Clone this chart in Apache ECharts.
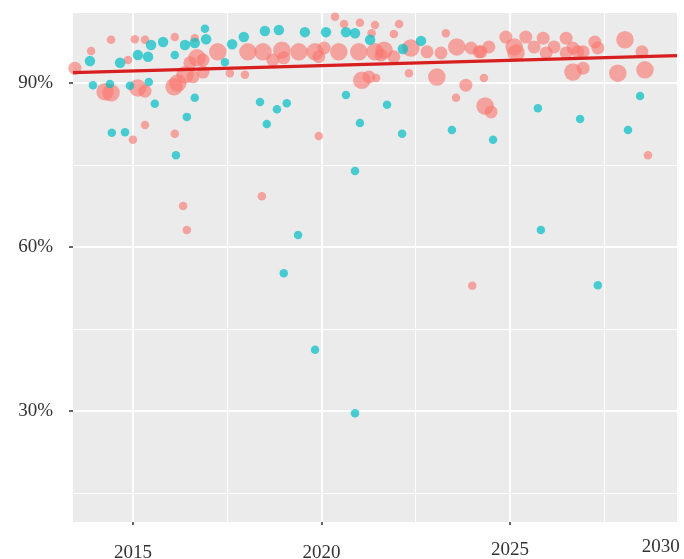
<!DOCTYPE html>
<html>
<head>
<meta charset="utf-8">
<script src="https://cdn.jsdelivr.net/npm/echarts@6/dist/echarts.min.js"></script>
<style>
  html, body { margin: 0; padding: 0; background: #ffffff; }
  #chart { width: 684px; height: 559px; }
</style>
</head>
<body>
<div id="chart"></div>
<script>
// ---- data -------------------------------------------------------------
// Group B (teal): year, share (%), weight class
const tealYear = [2013.86, 2013.94, 2014.39, 2014.44, 2014.79, 2014.66, 2014.92, 2015.13, 2015.40, 2015.48,
  2015.80, 2015.42, 2015.58, 2016.11, 2016.14, 2016.43, 2016.64, 2016.38, 2016.64, 2016.94,
  2016.91, 2017.44, 2017.63, 2017.94, 2018.50, 2018.87, 2019.56, 2020.12, 2020.65, 2020.89,
  2021.29, 2018.37, 2018.55, 2018.82, 2019.08, 2020.65, 2020.89, 2021.02, 2019.38, 2019.00,
  2019.83, 2020.89, 2022.16, 2022.64, 2021.74, 2022.14, 2023.46, 2024.55, 2025.74, 2026.86,
  2028.13, 2028.45, 2025.82, 2027.33];
const tealShare = [94.0, 89.6, 89.8, 80.9, 81.0, 93.7, 89.5, 95.1, 94.8, 96.95,
  97.5, 90.2, 86.2, 95.1, 76.8, 83.8, 87.3, 96.95, 97.3, 98.0,
  99.9, 93.8, 97.1, 98.4, 99.5, 99.7, 99.3, 99.3, 99.3, 99.1,
  97.9, 86.5, 82.5, 85.2, 86.3, 87.8, 73.9, 82.7, 62.2, 55.2,
  41.2, 29.6, 96.2, 97.7, 86.0, 80.7, 81.4, 79.6, 85.4, 83.4,
  81.4, 87.6, 63.1, 53.0];
const tealWeight = [2, 1, 1, 1, 1, 2, 1, 2, 2, 2,
  2, 1, 1, 1, 1, 1, 1, 2, 2, 2,
  1, 1, 2, 2, 2, 2, 2, 2, 2, 2,
  2, 1, 1, 1, 1, 1, 1, 1, 1, 1,
  1, 1, 2, 2, 1, 1, 1, 1, 1, 1,
  1, 1, 1, 1];

// Group A (salmon): year, share (%), weight class
const salmonYear = [2013.46, 2013.89, 2014.42, 2015.05, 2015.32, 2014.87, 2016.11, 2014.26, 2014.42, 2015.13,
  2015.32, 2016.09, 2015.32, 2015.00, 2016.11, 2016.33, 2016.43, 2016.64, 2016.70, 2016.51,
  2016.86, 2017.25, 2016.19, 2016.38, 2016.59, 2016.86, 2017.57, 2017.97, 2018.05, 2018.45,
  2018.71, 2018.42, 2018.95, 2019.40, 2019.83, 2020.07, 2020.46, 2020.99, 2021.42, 2019.00,
  2019.93, 2020.36, 2020.60, 2021.02, 2021.42, 2021.07, 2021.26, 2019.93, 2022.06, 2021.92,
  2023.30, 2021.66, 2022.37, 2022.80, 2023.17, 2023.59, 2023.97, 2024.23, 2021.58, 2021.92,
  2022.32, 2023.06, 2023.83, 2023.57, 2021.45, 2024.34, 2024.50, 2024.31, 2024.89, 2025.42,
  2025.88, 2026.49, 2024.44, 2025.11, 2025.64, 2026.17, 2026.67, 2024.18, 2025.16, 2025.96,
  2026.49, 2026.94, 2026.67, 2027.25, 2028.05, 2026.80, 2027.33, 2028.50, 2027.86, 2028.58,
  2026.94, 2028.66, 2024.00, 2021.33];
const salmonShare = [92.7, 95.85, 97.9, 98.0, 97.9, 94.2, 98.4, 88.4, 88.2, 89.1,
  88.5, 89.3, 82.3, 79.6, 80.7, 67.5, 63.1, 98.2, 94.6, 93.7,
  94.2, 95.7, 90.0, 91.5, 91.1, 92.0, 91.8, 91.5, 95.7, 95.7,
  94.2, 69.3, 96.0, 95.7, 95.7, 96.4, 95.7, 95.7, 95.7, 94.6,
  94.8, 102.1, 100.8, 101.0, 100.6, 90.5, 91.1, 80.3, 100.8, 98.96,
  99.1, 96.0, 96.4, 95.7, 95.5, 96.6, 96.4, 95.7, 95.1, 94.8,
  91.8, 91.1, 89.6, 87.3, 90.9, 85.8, 84.7, 90.9, 98.4, 98.4,
  98.2, 98.2, 96.6, 96.6, 96.6, 96.6, 96.4, 95.7, 95.5, 95.5,
  95.5, 95.7, 92.0, 97.5, 97.9, 95.7, 96.4, 95.7, 91.8, 92.4,
  92.7, 76.8, 52.9, 99.1];
const salmonWeight = [2, 1, 1, 1, 1, 1, 1, 3, 3, 3,
  2, 3, 1, 1, 1, 1, 1, 1, 3, 2,
  2, 3, 3, 3, 2, 2, 1, 1, 3, 3,
  2, 1, 3, 3, 3, 2, 3, 3, 3, 2,
  2, 1, 1, 1, 1, 3, 2, 1, 1, 1,
  1, 3, 3, 2, 2, 3, 2, 2, 2, 2,
  1, 3, 2, 1, 1, 3, 2, 1, 2, 2,
  2, 2, 2, 3, 2, 2, 2, 2, 3, 2,
  2, 2, 3, 2, 3, 2, 2, 2, 3, 3,
  2, 1, 1, 1];

// Linear trend end points (year, share %)
const trendYear = [2013.41, 2029.43];
const trendShare = [91.9, 95.0];

// Axis ticks and labels
const xMajor = [2015, 2020, 2025];
const xMinor = [2017.5, 2022.5, 2027.5];
const xLabelValues = [2015, 2020, 2025, 2029];
const xLabelText = ['2015', '2020', '2025', '2030'];
const yMajor = [30, 60, 90];
const yMinor = [15, 45, 75];
const yLabelText = ['30%', '60%', '90%'];

// ---- chart ------------------------------------------------------------
const X_MIN = 2013.41, X_MAX = 2029.43;
const Y_MIN = 9.7, Y_MAX = 102.8;
const salmonSize = w => [0, 8.5, 13, 17.5][w];
const tealSize = w => [0, 8.5, 10.5][w];
const zipPoints = (xs, ys, ws) => xs.map((x, i) => [x, ys[i], ws[i]]);

const FONT = '"Liberation Serif", "DejaVu Serif", serif';
const labelColor = '#333333';
// the year labels sit at slightly different heights
const xLabelDrop = ['low', 'low', 'mid', 'high'];

const chart = echarts.init(document.getElementById('chart'), null, { renderer: 'canvas' });

chart.setOption({
  backgroundColor: '#ffffff',
  animation: false,
  grid: {
    left: 73, right: 7, top: 13, bottom: 37,
    containLabel: false, outerBoundsMode: 'none',
    show: true, backgroundColor: '#EBEBEB', borderWidth: 0
  },
  xAxis: [
    {
      type: 'value', min: X_MIN, max: X_MAX,
      axisLine: { show: false },
      axisTick: { show: true, length: 3, customValues: xMajor, lineStyle: { color: '#333333', width: 1.5 } },
      axisLabel: {
        customValues: xLabelValues,
        margin: 16,
        fontFamily: FONT, fontSize: 19, color: labelColor,
        formatter: v => {
          const i = xLabelValues.indexOf(v);
          return i < 0 ? '' : '{' + xLabelDrop[i] + '|' + xLabelText[i] + '}';
        },
        rich: {
          low: { fontFamily: FONT, fontSize: 19, color: labelColor, padding: [6, 0, 0, 0] },
          mid: { fontFamily: FONT, fontSize: 19, color: labelColor, padding: [3, 0, 0, 0] },
          high: { fontFamily: FONT, fontSize: 19, color: labelColor, padding: [0, 0, 0, 0] }
        }
      },
      splitLine: { show: true, lineStyle: { color: '#ffffff', width: 2 } }
    },
    {
      type: 'value', min: X_MIN, max: X_MAX, position: 'bottom',
      axisLine: { show: false },
      axisTick: { show: false, customValues: xMinor },
      axisLabel: { show: false },
      splitLine: { show: true, lineStyle: { color: '#ffffff', width: 1 } }
    }
  ],
  yAxis: [
    {
      type: 'value', min: Y_MIN, max: Y_MAX,
      axisLine: { show: false },
      axisTick: { show: true, length: 4, customValues: yMajor, lineStyle: { color: '#333333', width: 1.5 } },
      axisLabel: {
        customValues: yMajor,
        margin: 20,
        fontFamily: FONT, fontSize: 19, color: labelColor,
        formatter: v => yLabelText[yMajor.indexOf(v)] ?? ''
      },
      splitLine: { show: true, lineStyle: { color: '#ffffff', width: 2 } }
    },
    {
      type: 'value', min: Y_MIN, max: Y_MAX, position: 'left',
      axisLine: { show: false },
      axisTick: { show: false, customValues: yMinor },
      axisLabel: { show: false },
      splitLine: { show: true, lineStyle: { color: '#ffffff', width: 1 } }
    }
  ],
  series: [
    {
      name: 'Group A', type: 'scatter',
      data: zipPoints(salmonYear, salmonShare, salmonWeight),
      symbolSize: d => salmonSize(d[2]),
      itemStyle: { color: '#F8766D', opacity: 0.62 },
      silent: true, z: 3
    },
    {
      name: 'Group B', type: 'scatter',
      data: zipPoints(tealYear, tealShare, tealWeight),
      symbolSize: d => tealSize(d[2]),
      itemStyle: { color: '#00BFC4', opacity: 0.7 },
      silent: true, z: 4
    },
    {
      name: 'Trend', type: 'line',
      data: trendYear.map((x, i) => [x, trendShare[i]]),
      symbol: 'none',
      lineStyle: { color: '#d81e1e', width: 3.2 },
      silent: true, z: 5
    }
  ]
});
</script>
</body>
</html>
